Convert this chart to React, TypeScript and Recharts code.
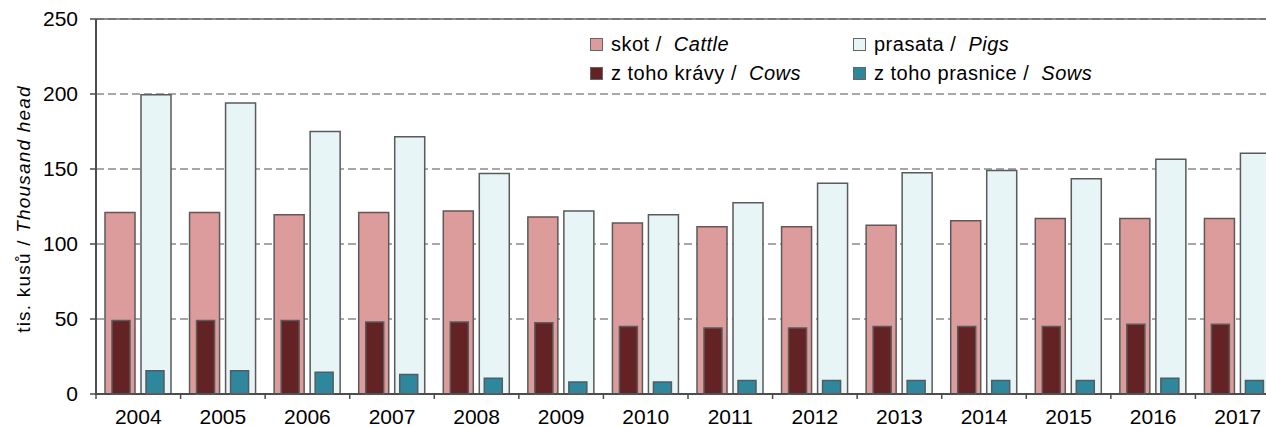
import { BarChart, Bar, XAxis, YAxis, CartesianGrid, ReferenceLine } from "recharts";

const YEARS = ["2004", "2005", "2006", "2007", "2008", "2009", "2010", "2011", "2012", "2013", "2014", "2015", "2016", "2017"];
const CATTLE = [121, 121, 119.5, 121, 122, 118, 114, 111.5, 111.5, 112.5, 115.5, 117, 117, 117];
const PIGS = [199.5, 194, 175, 171.5, 147, 122, 119.5, 127.5, 140.5, 147.5, 149, 143.5, 156.5, 160.5];
const COWS = [49, 49, 49, 48, 48, 47.5, 45, 44, 44, 45, 45, 45, 46.5, 46.5];
const SOWS = [15.5, 15.5, 14.5, 13, 10.5, 8, 8, 9, 9, 9, 9, 9, 10.5, 9];
const Y_TICKS = [0, 50, 100, 150, 200, 250];

const data = YEARS.map((year, i) => ({
  year,
  cattle: CATTLE[i],
  pigs: PIGS[i],
  cows: COWS[i],
  sows: SOWS[i],
}));

const W = 1290;
const H = 427;
const FONT = '"Liberation Sans", Arial, sans-serif';
const AXIS = "#4d4d4d";
const EDGE = "#5a5a5a";
const BAND = (W - 10 - 96) / YEARS.length;

const COLORS = { cattle: "#dd9c9c", pigs: "#e8f5f7", cows: "#632324", sows: "#2e879d" };

const LEGEND = [
  { key: "cattle", cz: "skot / ", en: "Cattle" },
  { key: "pigs", cz: "prasata / ", en: "Pigs" },
  { key: "cows", cz: "z toho krávy / ", en: "Cows" },
  { key: "sows", cz: "z toho prasnice / ", en: "Sows" },
];

function XTick({ x, y, payload }: any) {
  const left = x - BAND / 2;
  return (
    <g>
      <line x1={left} x2={left} y1={y} y2={y + 5} stroke={AXIS} strokeWidth={1.5} />
      <text x={x} y={y + 30} textAnchor="middle" fontSize={21} fontFamily={FONT} fill="#000">
        {payload.value}
      </text>
    </g>
  );
}

function LegendBox() {
  return (
    <div
      style={{
        position: "absolute",
        left: 590,
        top: 34,
        display: "grid",
        gridTemplateColumns: "263px 300px",
        rowGap: 9,
        fontFamily: FONT,
        fontSize: 20,
        color: "#000",
        letterSpacing: 0.5,
      }}
    >
      {LEGEND.map((d) => (
        <div key={d.key} style={{ display: "flex", alignItems: "center", height: 20, whiteSpace: "pre" }}>
          <span
            style={{
              display: "inline-block",
              width: 11,
              height: 11,
              background: COLORS[d.key as keyof typeof COLORS],
              border: "1.5px solid #666",
              marginRight: 8,
            }}
          />
          <span>{d.cz}</span>
          <span style={{ fontStyle: "italic", marginLeft: 6 }}>{d.en}</span>
        </div>
      ))}
    </div>
  );
}

export default function App() {
  return (
    <div style={{ position: "relative", width: W, height: H }}>
      <style>{"body{margin:0;overflow:hidden;background:#fff}"}</style>
      <div style={{ position: "absolute", left: 0, top: 0 }}>
        <BarChart width={W} height={H} data={data} margin={{ top: 19, right: 10, left: 0, bottom: 0 }} barGap={6}>
          <CartesianGrid vertical={false} stroke="#8a8a8a" strokeWidth={1.5} strokeDasharray="8 4" />
          <ReferenceLine y={250} stroke="#666" strokeWidth={1.5} />
          <XAxis
            dataKey="year"
            height={33}
            tickSize={0}
            tickMargin={0}
            tickLine={false}
            axisLine={{ stroke: AXIS, strokeWidth: 2 }}
            tick={<XTick />}
            interval={0}
          />
          <YAxis
            width={96}
            domain={[0, 250]}
            ticks={Y_TICKS}
            interval={0}
            tickSize={6}
            tickMargin={12}
            tickLine={{ stroke: AXIS, strokeWidth: 1.5 }}
            axisLine={{ stroke: AXIS, strokeWidth: 2 }}
            tick={{ fontSize: 21, fontFamily: FONT, fill: "#000" }}
            label={{
              content: () => (
                <text
                  x={30}
                  y={209}
                  transform="rotate(-90, 30, 209)"
                  textAnchor="middle"
                  fontSize={19}
                  fontFamily={FONT}
                  letterSpacing={1.2}
                  fill="#000"
                >
                  tis. kusů / <tspan fontStyle="italic">Thousand head</tspan>
                </text>
              ),
            }}
          />
          <Bar dataKey="cattle" fill={COLORS.cattle} stroke={EDGE} strokeWidth={1.5} barSize={30} isAnimationActive={false} />
          <Bar dataKey="pigs" fill={COLORS.pigs} stroke={EDGE} strokeWidth={1.5} barSize={30} isAnimationActive={false} />
        </BarChart>
      </div>
      <div style={{ position: "absolute", left: 0, top: 0, pointerEvents: "none" }}>
        <BarChart width={W} height={H} data={data} margin={{ top: 19, right: 10, left: 96, bottom: 33 }} barGap={16}>
          <XAxis dataKey="year" hide />
          <YAxis domain={[0, 250]} ticks={Y_TICKS} hide />
          <Bar dataKey="cows" fill={COLORS.cows} stroke={EDGE} strokeWidth={1.5} barSize={18} isAnimationActive={false} />
          <Bar dataKey="sows" fill={COLORS.sows} stroke={EDGE} strokeWidth={1.5} barSize={18} isAnimationActive={false} />
        </BarChart>
      </div>
      <LegendBox />
    </div>
  );
}
